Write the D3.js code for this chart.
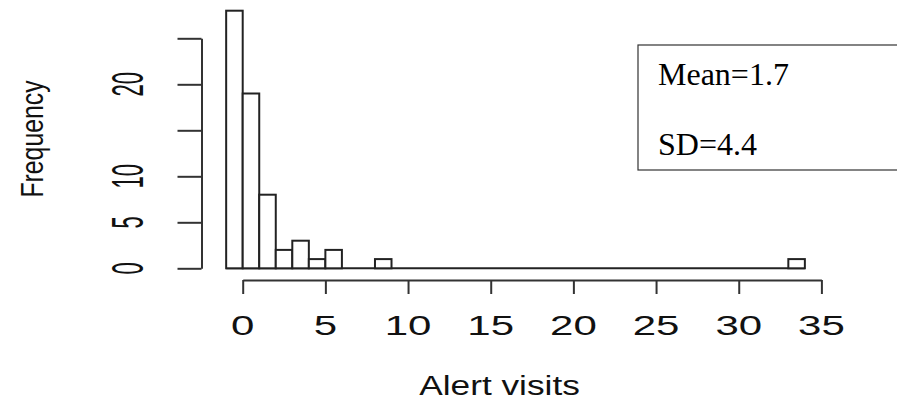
<!DOCTYPE html>
<html>
<head>
<meta charset="utf-8">
<script src="https://cdn.jsdelivr.net/npm/d3@7"></script>
<style>
  html, body { margin: 0; padding: 0; background: #fff; }
  svg { display: block; }
</style>
</head>
<body>
<svg id="chart" width="897" height="400"></svg>
<script>
// ---- data ----
const binEdges = [-1, 0, 1, 2, 3, 4, 5, 6, 7, 8, 9, 10, 11, 12, 13, 14, 15, 16, 17,
                  18, 19, 20, 21, 22, 23, 24, 25, 26, 27, 28, 29, 30, 31, 32, 33, 34];
const counts = [28, 19, 8, 2, 3, 1, 2, 0, 0, 1, 0, 0, 0, 0, 0, 0, 0, 0,
                0, 0, 0, 0, 0, 0, 0, 0, 0, 0, 0, 0, 0, 0, 0, 0, 1];
const xTicks = [0, 5, 10, 15, 20, 25, 30, 35];
const yTicks = [0, 5, 10, 15, 20, 25];
const yTickLabels = [0, 5, 10, 20];
const statsLines = ["Mean=1.7", "SD=4.4"];
const xTitle = "Alert visits";
const yTitle = "Frequency";

// ---- drawing ----
const svg = d3.select("#chart");
const x = d3.scaleLinear().domain([0, 35]).range([242.7, 821.4]);
const y = d3.scaleLinear().domain([0, 25]).range([268.3, 38.3]);

const bins = counts.map((c, i) => ({ x0: binEdges[i], x1: binEdges[i + 1], n: c }));

// baseline under empty bins
svg.append("line")
  .attr("x1", x(binEdges[0])).attr("x2", x(binEdges[binEdges.length - 1]))
  .attr("y1", y(0)).attr("y2", y(0))
  .attr("stroke", "#222").attr("stroke-width", 2);

svg.append("g").selectAll("rect")
  .data(bins.filter(d => d.n > 0))
  .join("rect")
  .attr("x", d => x(d.x0))
  .attr("y", d => y(d.n))
  .attr("width", d => x(d.x1) - x(d.x0))
  .attr("height", d => y(0) - y(d.n))
  .attr("fill", "#fff")
  .attr("stroke", "#222")
  .attr("stroke-width", 2);

// x axis
const gx = svg.append("g")
  .attr("transform", "translate(0,280)")
  .call(d3.axisBottom(x).tickValues(xTicks).tickSize(14).tickSizeOuter(0).tickFormat(""));
gx.selectAll("path, line").attr("stroke", "#333").attr("stroke-width", 2);

svg.append("g").selectAll("text")
  .data(xTicks)
  .join("text")
  .attr("transform", d => `translate(${x(d)},335) scale(1.5,1)`)
  .attr("text-anchor", "middle")
  .attr("font-family", "'Liberation Sans', Arial, sans-serif")
  .attr("font-size", 28)
  .attr("fill", "#111")
  .text(d => d);

// y axis
const gy = svg.append("g")
  .attr("transform", "translate(201.5,0)")
  .call(d3.axisLeft(y).tickValues(yTicks).tickSize(24).tickSizeOuter(0).tickFormat(""));
gy.selectAll("path, line").attr("stroke", "#333").attr("stroke-width", 2);

svg.append("g").selectAll("text")
  .data(yTickLabels)
  .join("text")
  .attr("transform", d => `translate(143.3,${y(d)}) scale(2,1) rotate(-90)`)
  .attr("text-anchor", "middle")
  .attr("font-family", "'Liberation Sans', Arial, sans-serif")
  .attr("font-size", 22)
  .attr("fill", "#111")
  .text(d => d);

// axis titles
svg.append("text")
  .attr("transform", "translate(499.5,395) scale(1.26,1)")
  .attr("text-anchor", "middle")
  .attr("font-family", "'Liberation Sans', Arial, sans-serif")
  .attr("font-size", 28)
  .attr("fill", "#111")
  .text(xTitle);

svg.append("text")
  .attr("transform", "translate(42.5,139) scale(1.3,1) rotate(-90)")
  .attr("text-anchor", "middle")
  .attr("font-family", "'Liberation Sans', Arial, sans-serif")
  .attr("font-size", 24.8)
  .attr("fill", "#111")
  .text(yTitle);

// stats box
svg.append("rect")
  .attr("x", 638).attr("y", 45).attr("width", 270).attr("height", 125)
  .attr("fill", "#fff").attr("stroke", "#333").attr("stroke-width", 1.2);

svg.append("g").selectAll("text")
  .data(statsLines)
  .join("text")
  .attr("x", 658)
  .attr("y", (d, i) => 85 + i * 70)
  .attr("font-family", "'Liberation Serif', 'Times New Roman', serif")
  .attr("font-size", 32)
  .attr("fill", "#000")
  .text(d => d);
</script>
</body>
</html>
